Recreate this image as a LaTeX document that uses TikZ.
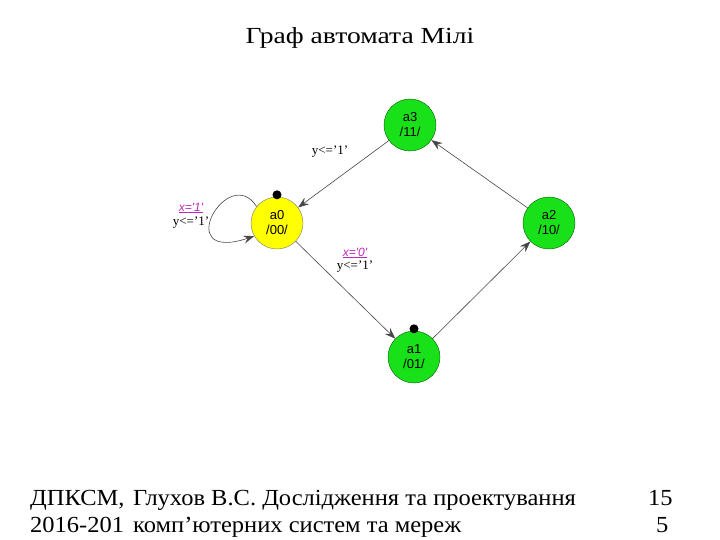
\documentclass[tikz,border=0pt]{standalone}
\usepackage{fontspec}
\setmainfont{Liberation Serif}
\newfontfamily\arialfont{Liberation Sans}
\usetikzlibrary{arrows.meta, positioning, calc}
\definecolor{StateGreen}{RGB}{25, 225, 25}
\definecolor{StateYellow}{RGB}{255, 255, 0}
\definecolor{EdgeGray}{RGB}{70, 70, 70}
\definecolor{CondPink}{RGB}{190, 40, 190}
\newcommand{\sq}{\char39\relax}

\begin{document}
\begin{tikzpicture}[x=1pt, y=-1pt,
    state/.style={circle, draw=green!35!black, fill=StateGreen, minimum size=52pt, inner sep=0pt,
        align=center, font=\arialfont\fontsize{13}{15}\selectfont},
    edge/.style={draw=EdgeGray, line width=0.6pt, -{Stealth[length=11pt, width=8pt, inset=4pt]}},
    outlbl/.style={font=\fontsize{13}{14}\selectfont, inner sep=1pt},
    condlbl/.style={font=\arialfont\itshape\fontsize{12}{13}\selectfont, text=CondPink, inner sep=1pt},
    big/.style={font=\fontsize{23}{26}\selectfont, inner sep=0pt}]
    \useasboundingbox (0,0) rectangle (720,540);

    % Title
    \node[big, anchor=base] (title) at (360,44) {\scalebox{1.2}[1]{Граф автомата Мілі}};

    % States
    \node[state, fill=StateYellow, draw=black!55] (a0) at (277,223) {a0\\/00/};
    \node[state] (a1) at (414,357) {a1\\/01/};
    \node[state] (a2) at (549,223) {a2\\/10/};
    \node[state] (a3) at (410,125) {a3\\/11/};

    % Initial marks
    \fill ([yshift=2pt]a0.north) circle (4.5pt);
    \fill ([yshift=2pt]a1.north) circle (4.5pt);

    % Transitions
    \draw[edge] (a3) -- (a0);
    \draw[edge] (a0) -- (a1);
    \draw[edge] (a1) -- (a2);
    \draw[edge] (a2) -- (a3);
    \draw[edge] (a0.141) .. controls (228,162) and (170,264) .. (a0.210);

    % Labels
    \node[outlbl] (y30) at (330,152) {y<=\sq1\sq};
    \node[condlbl] (x00) at (191,208) {\underline{x=\sq1\sq}};
    \node[outlbl] (y00) at (191,223) {y<=\sq1\sq};
    \node[condlbl] (x01) at (355,253) {\underline{x=\sq0\sq}};
    \node[outlbl] (y01) at (355,267) {y<=\sq1\sq};

    % Footer
    \node[big, anchor=base west] (f1) at (30,505) {\scalebox{1.065}[1]{ДПКСМ,}};
    \node[big, anchor=base west] (f2) at (30,532) {\scalebox{1.065}[1]{2016-201}};
    \node[big, anchor=base west] (f3) at (133,505) {\scalebox{1.065}[1]{Глухов В.С. Дослідження та проектування}};
    \node[big, anchor=base west] (f4) at (133,532) {\scalebox{1.065}[1]{комп\sq ютерних систем та мереж}};
    \node[big, anchor=base west] (f5) at (648,505) {\scalebox{1.065}[1]{15}};
    \node[big, anchor=base west] (f6) at (656,532) {\scalebox{1.065}[1]{5}};
\end{tikzpicture}
\end{document}
